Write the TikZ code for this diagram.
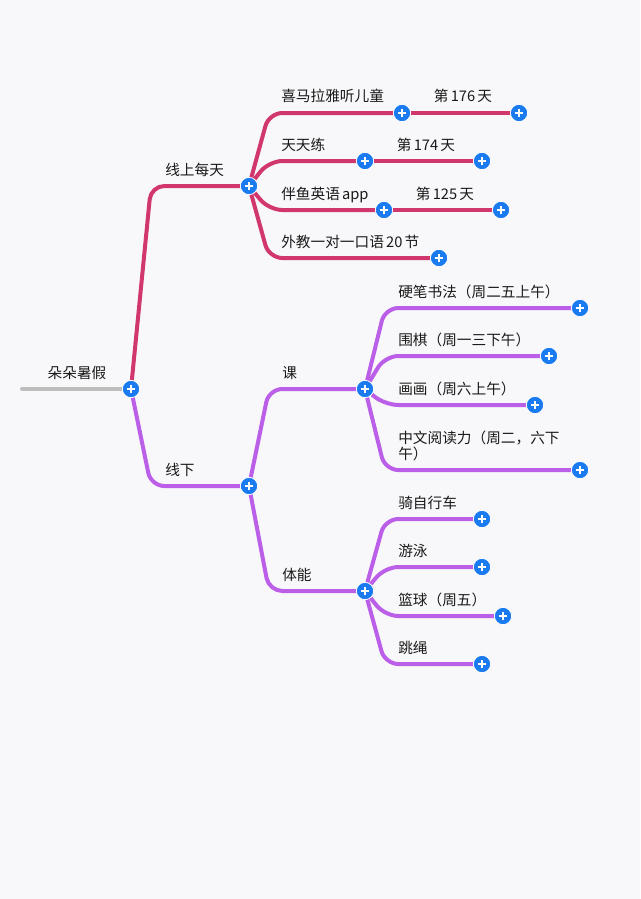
\documentclass[tikz,border=0pt]{standalone}
\usepackage{fontspec}
\setmainfont{Noto Sans CJK SC}
\usetikzlibrary{positioning}
\definecolor{bgcol}{RGB}{248,248,250}
\definecolor{rosecol}{RGB}{209,55,108}
\definecolor{violetcol}{RGB}{187,94,232}
\definecolor{greycol}{RGB}{190,190,190}
\definecolor{btncol}{RGB}{26,122,240}
\definecolor{txtcol}{RGB}{26,26,26}
\newcommand{\gp}{\hspace{0.15em}}
\tikzset{
  branch/.style={line width=3pt, rounded corners=10pt, line cap=round},
  plusbtn/.style={circle, fill=btncol, draw=white, line width=0.6pt, minimum size=13pt, inner sep=0pt,
    path picture={
      \draw[white, line width=1.5pt] ([xshift=-3.2pt]path picture bounding box.center) -- ([xshift=3.2pt]path picture bounding box.center);
      \draw[white, line width=1.5pt] ([yshift=-3.2pt]path picture bounding box.center) -- ([yshift=3.2pt]path picture bounding box.center);
    }},
  lbl/.style={anchor=base west, inner sep=0pt, text=txtcol, font=\fontsize{11}{12}\selectfont},
}
\begin{document}
\begin{tikzpicture}[x=0.75pt, y=-0.75pt]
\fill[bgcol] (0,0) rectangle (640,899);

% points of the map
\coordinate (tail) at (22,389);
\coordinate (root) at (131,389);
\coordinate (online) at (249,186);
\coordinate (offline) at (249,486);
\coordinate (xmly) at (402,113);
\coordinate (xmly-day) at (519,113);
\coordinate (ttl) at (365,161);
\coordinate (ttl-day) at (482,161);
\coordinate (bny) at (384,210);
\coordinate (bny-day) at (501,210);
\coordinate (waijiao) at (439,258);
\coordinate (course) at (365,389);
\coordinate (sport) at (365,591);
\coordinate (yingbi) at (580,308);
\coordinate (weiqi) at (549,356);
\coordinate (huahua) at (535,405);
\coordinate (yuedu) at (580,470);
\coordinate (bike) at (482,519);
\coordinate (swim) at (482,567);
\coordinate (ball) at (503,616);
\coordinate (rope) at (482,664);

% branches
\draw[branch, greycol] (tail) -- (root);
\draw[branch, rosecol] (root) -- ([xshift=15pt]root |- online) -- (online);
\draw[branch, violetcol] (root) -- ([xshift=15pt]root |- offline) -- (offline);
\foreach \c in {xmly, ttl, bny, waijiao}
  \draw[branch, rosecol] (online) -- ([xshift=15pt]online |- \c) -- (\c);
\draw[branch, rosecol] (xmly) -- (xmly-day);
\draw[branch, rosecol] (ttl) -- (ttl-day);
\draw[branch, rosecol] (bny) -- (bny-day);
\foreach \c in {course, sport}
  \draw[branch, violetcol] (offline) -- ([xshift=15pt]offline |- \c) -- (\c);
\foreach \c in {yingbi, weiqi, huahua, yuedu}
  \draw[branch, violetcol] (course) -- ([xshift=15pt]course |- \c) -- (\c);
\foreach \c in {bike, swim, ball, rope}
  \draw[branch, violetcol] (sport) -- ([xshift=15pt]sport |- \c) -- (\c);

% buttons
\foreach \c in {root, online, offline, xmly, xmly-day, ttl, ttl-day, bny, bny-day, waijiao,
  course, sport, yingbi, weiqi, huahua, yuedu, bike, swim, ball, rope}
  \node[plusbtn] (\c-btn) at (\c) {};

% labels
\node[lbl, anchor=base] (root-txt) at (77,378) {朵朵暑假};
\node[lbl] (online-txt) at (165,175) {线上每天};
\node[lbl] (offline-txt) at (165,475) {线下};
\node[lbl] (xmly-txt) at (281,102) {喜马拉雅听儿童};
\node[lbl, anchor=base] (xmly-day-txt) at (463,102) {第\gp{}176\gp{}天};
\node[lbl] (ttl-txt) at (281,150) {天天练};
\node[lbl, anchor=base] (ttl-day-txt) at (426,150) {第\gp{}174\gp{}天};
\node[lbl] (bny-txt) at (281,199) {伴鱼英语\gp{}app};
\node[lbl, anchor=base] (bny-day-txt) at (445,199) {第\gp{}125\gp{}天};
\node[lbl] (waijiao-txt) at (281,247) {外教一对一口语\gp{}20\gp{}节};
\node[lbl] (course-txt) at (282,378) {课};
\node[lbl] (sport-txt) at (282,580) {体能};
\node[lbl] (yingbi-txt) at (398,297) {硬笔书法（周二五上午）};
\node[lbl] (weiqi-txt) at (398,345) {围棋（周一三下午）};
\node[lbl] (huahua-txt) at (398,394) {画画（周六上午）};
\node[lbl, align=left] (yuedu-txt) at (398,459) {中文阅读力（周二，六下\\午）};
\node[lbl] (bike-txt) at (398,508) {骑自行车};
\node[lbl] (swim-txt) at (398,556) {游泳};
\node[lbl] (ball-txt) at (398,605) {篮球（周五）};
\node[lbl] (rope-txt) at (398,653) {跳绳};
\end{tikzpicture}
\end{document}
